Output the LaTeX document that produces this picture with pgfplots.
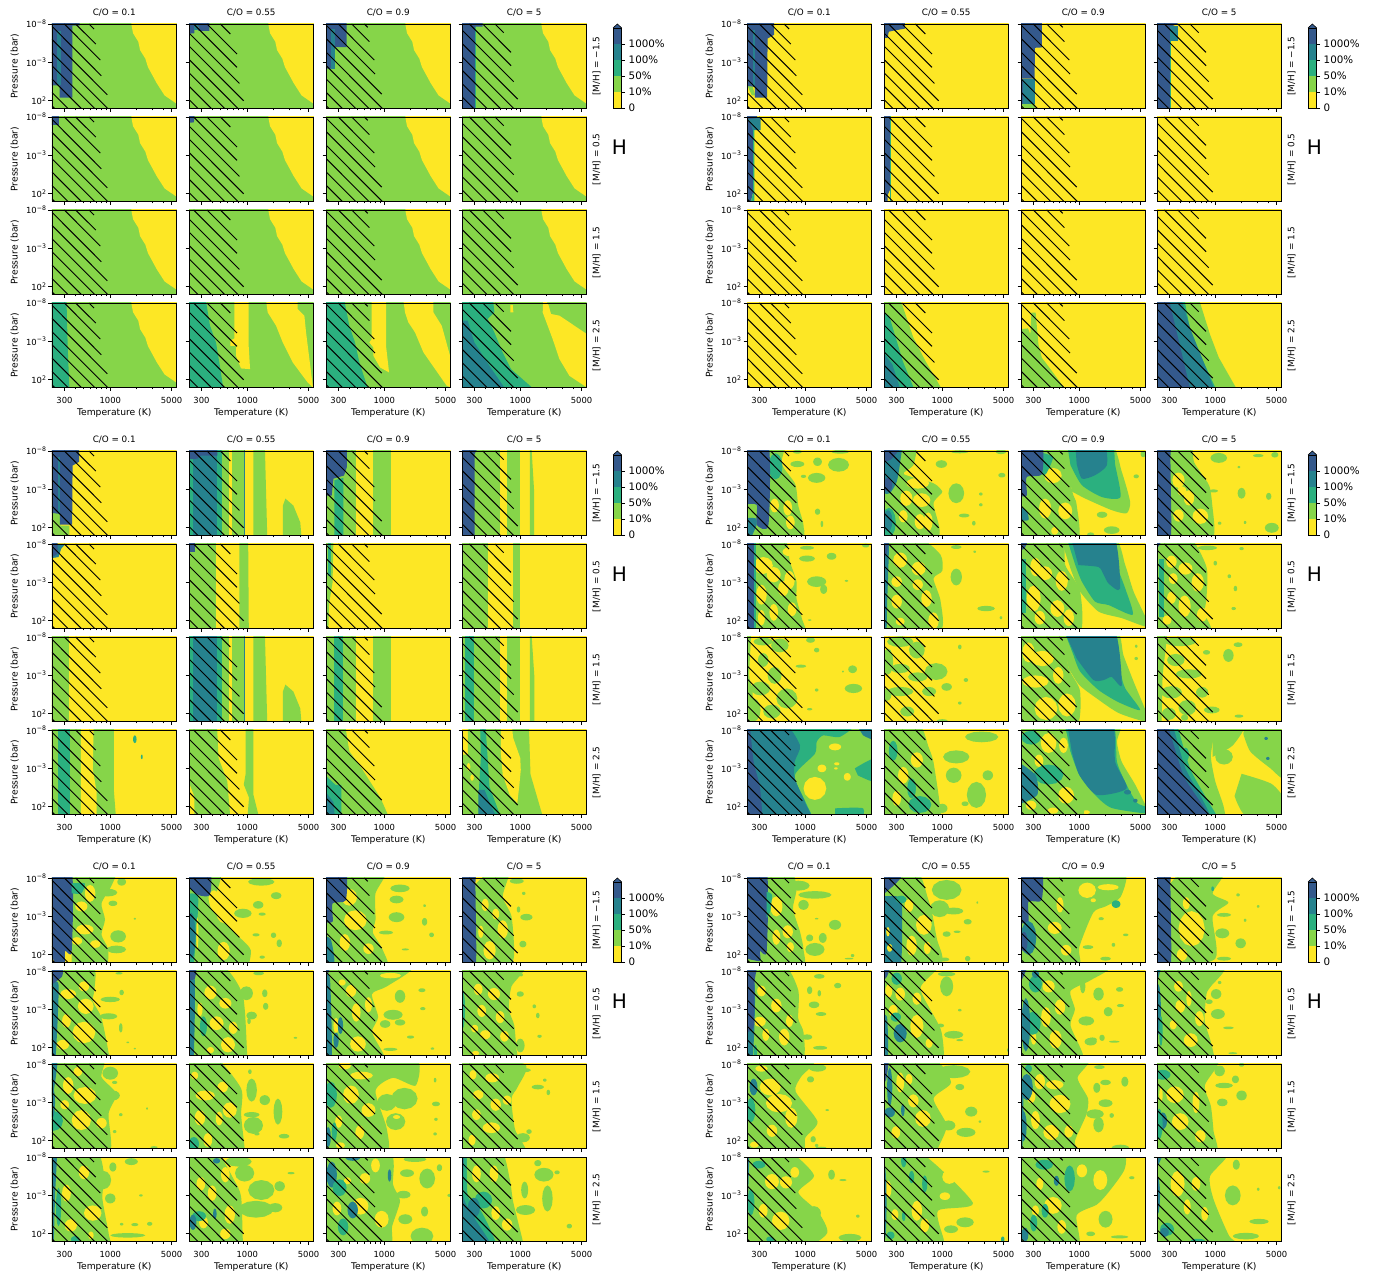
\documentclass[border=0pt]{standalone}
\usepackage{pgfplots}
\usepackage{fontspec}
\setmainfont{DejaVu Sans}
\pgfplotsset{compat=1.18}
\definecolor{c0}{HTML}{FDE725}\definecolor{c1}{HTML}{86D549}\definecolor{c2}{HTML}{2BB07F}\definecolor{c3}{HTML}{26828E}\definecolor{c4}{HTML}{34598C}
\newcommand\tten[1]{10\raisebox{.42em}{\fontsize{6.2}{6}\selectfont #1}}
\newcommand\F[2]{\addplot[fill=#1,draw=none] coordinates {#2};}
\newcommand\E[5]{\pgfmathsetmacro\ea{#2-#4}\pgfmathsetmacro\eb{#2+#4}\pgfmathsetmacro\ec{#3-#5}\pgfmathsetmacro\ed{#3+#5}\pgfmathsetmacro\xa{#2-.866*#4}\pgfmathsetmacro\xb{#2-.5*#4}\pgfmathsetmacro\xc{#2+.5*#4}\pgfmathsetmacro\xd{#2+.866*#4}\pgfmathsetmacro\ya{#3-.866*#5}\pgfmathsetmacro\yb{#3-.5*#5}\pgfmathsetmacro\yc{#3+.5*#5}\pgfmathsetmacro\yd{#3+.866*#5}\addplot[fill=#1,draw=none] coordinates {(\ea,#3)(\xa,\yb)(\xb,\ya)(#2,\ec)(\xc,\ya)(\xd,\yb)(\eb,#3)(\xd,\yc)(\xc,\yd)(#2,\ed)(\xb,\yd)(\xa,\yc)};}
\newcommand\Y{\E{c0}}\newcommand\G{\E{c1}}
\newcommand\Rc[5]{\addplot[fill=#1,draw=none] coordinates {(#2,#4)(#3,#4)(#3,#5)(#2,#5)};}
\newcommand\Hh[1]{\addplot[black,line width=.95pt,unbounded coords=jump] coordinates {#1};}
\def\hatchA{\Hh{(2.758,-8)(2.815,-7.35)(0,nan)(2.605,-8)(2.834,-5.39)(0,nan)(2.476,-8)(2.887,-3.3)(0,nan)(2.335,-7.7)(2.898,-1.26)(0,nan)(2.335,-6)(2.967,1.22)(0,nan)(2.335,-4.26)(2.971,3)(0,nan)(2.335,-2.57)(2.822,3)(0,nan)(2.335,-.83)(2.67,3)(0,nan)(2.335,.91)(2.518,3)(0,nan)(2.335,2.65)(2.365,3)}}
\def\hatchB{\Hh{(2.693,-8)(2.807,-6.7)(0,nan)(2.541,-8)(2.883,-4.09)(0,nan)(2.388,-8)(2.883,-2.35)(0,nan)(2.335,-6.83)(2.91,-.26)(0,nan)(2.335,-5.13)(2.959,2)(0,nan)(2.335,-3.39)(2.895,3)(0,nan)(2.335,-1.65)(2.742,3)(0,nan)(2.335,.09)(2.59,3)(0,nan)(2.335,1.83)(2.438,3)}}
\def\hatchC{\Hh{(2.773,-8)(2.811,-7.57)(0,nan)(2.628,-8)(2.83,-5.7)(0,nan)(2.476,-8)(2.887,-3.3)(0,nan)(2.335,-7.87)(2.895,-1.48)(0,nan)(2.335,-6.13)(2.971,1.13)(0,nan)(2.335,-4.35)(2.978,3)(0,nan)(2.335,-2.61)(2.826,3)(0,nan)(2.335,-.87)(2.674,3)(0,nan)(2.335,.87)(2.522,3)(0,nan)(2.335,2.61)(2.369,3)}}
\def\hatchD{\Hh{(2.712,-8)(2.811,-6.87)(0,nan)(2.571,-8)(2.895,-4.3)(0,nan)(2.419,-8)(2.895,-2.57)(0,nan)(2.335,-7.22)(2.925,-.48)(0,nan)(2.335,-5.48)(2.971,1.78)(0,nan)(2.335,-3.74)(2.925,3)(0,nan)(2.335,-2)(2.773,3)(0,nan)(2.335,-.26)(2.621,3)(0,nan)(2.335,1.48)(2.468,3)}}
\pgfplotsset{base/.style={scale only axis,width=124.5pt,height=84.5pt,anchor=north west,axis on top,
 xmin=2.335,xmax=3.756,ymin=-8,ymax=3,y dir=reverse,axis line style={line width=.9pt,black},
 xtick={2.477,3,3.699},minor xtick={2.602,2.699,2.778,2.845,2.903,2.954,3.301,3.477,3.602},
 ytick={-8,-3,2},tick align=outside,xtick pos=bottom,ytick pos=left,
 major tick length=3.5pt,minor tick length=2pt,tick style={black,line width=.8pt},
 xticklabels={},yticklabels={},
 ticklabel style={font=\fontsize{8.4}{10}\selectfont},
 label style={font=\fontsize{9.2}{10}\selectfont},
 title style={font=\fontsize{8.8}{10}\selectfont,at={(axis description cs:.5,1.13)},anchor=center,yshift=-6pt},
 xlabel style={at={(axis description cs:.5,-.305)},anchor=center},
 ylabel style={at={(axis description cs:-.3,.5)},anchor=center},
 xticklabel style={yshift=-3pt},yticklabel style={xshift=1pt}},
 C1/.style={ylabel={Pressure (bar)},yticklabels={\tten{−8},\tten{−3},\tten{2}}},
 C2/.style={},C3/.style={},
 C4/.style={extra description/.code={\node[rotate=90,font=\fontsize{8.9}{10}\selectfont] at (axis description cs:1.08,.5) {[M/H] = \rowlab};}},
 R1/.style={title={C/O = \coltitle}},R2/.style={},R3/.style={},
 R4/.style={xlabel={Temperature (K)},xticklabels={300,1000,5000}}}
\newcommand\Panel[5]{%
 \ifcase#1\or\def\gx{0}\def\gy{0}\or\def\gx{695}\def\gy{0}\or\def\gx{0}\def\gy{427}\or\def\gx{695}\def\gy{427}\or\def\gx{0}\def\gy{854}\or\def\gx{695}\def\gy{854}\fi
 \ifcase#2\or\def\cx{52}\def\coltitle{0.1}\def\hh{\hatchA}\or\def\cx{189}\def\coltitle{0.55}\def\hh{\hatchB}\or\def\cx{326}\def\coltitle{0.9}\def\hh{\hatchC}\or\def\cx{462}\def\coltitle{5}\def\hh{\hatchD}\fi
 \ifcase#3\or\def\cy{24}\def\rowlab{−1.5}\or\def\cy{117}\def\rowlab{0.5}\or\def\cy{210}\def\rowlab{1.5}\or\def\cy{303}\def\rowlab{2.5}\fi
 \pgfmathsetmacro\px{\gx+\cx}\pgfmathsetmacro\py{1278-\gy-\cy}
 \begin{axis}[base,at={(\px pt,\py pt)},C#2,R#3]
 \Rc{#4}{2.3}{3.8}{-9}{4}
 #5
 \hh
 \end{axis}}
\newcommand\Deco[2]{%
 \pgfmathsetmacro\px{#1+613}\pgfmathsetmacro\py{1278-#2-108}
 \begin{axis}[scale only axis,width=8.7pt,height=80pt,anchor=south west,at={(\px pt,\py pt)},xmin=0,xmax=1,ymin=0,ymax=5,clip=false,axis on top,
 xtick=\empty,ytick={0,1,2,3,4},yticklabels={0,10\%,50\%,100\%,1000\%},ytick pos=right,yticklabel pos=right,
 major tick length=3.5pt,tick style={black,line width=.8pt},tick align=outside,axis line style={line width=.8pt},
 ticklabel style={font=\fontsize{10.3}{12}\selectfont},yticklabel style={xshift=0pt}]
 \Rc{c0}{0}{1}{0}{1}\Rc{c1}{0}{1}{1}{2}\Rc{c2}{0}{1}{2}{3}\Rc{c3}{0}{1}{3}{4}\Rc{c4}{0}{1}{4}{5}
 \addplot[fill=c4,draw=black,line width=.6pt] coordinates {(0,5)(.5,5.25)(1,5)};
 \end{axis}
 \pgfmathsetmacro\hx{#1+619.5}\pgfmathsetmacro\hy{1278-#2-147}
 \node[font=\fontsize{20}{22}\selectfont] at (\hx pt,\hy pt) {H};}
\def\YG{\F{c0}{(3.24,-9)(3.24,-8)(3.26,-6.8)(3.32,-5.7)(3.34,-4.6)(3.40,-3.5)(3.43,-2.4)(3.53,-.3)(3.62,1.3)(3.76,2.4)(3.8,3)(3.8,-9)}}
\def\BandB{\Rc{c2}{2.3}{2.712}{-9}{4}\Rc{c3}{2.375}{2.66}{-9}{4}\Rc{c1}{2.712}{2.79}{-9}{4}\Rc{c1}{2.831}{2.962}{-9}{4}\Rc{c3}{2.962}{2.97}{-9}{4}\F{c1}{(3.07,-9)(3.2,-9)(3.23,4)(3.07,4)}\F{c1}{(3.407,4)(3.407,-.9)(3.435,-1.8)(3.526,-.9)(3.605,1.3)(3.625,4)}}
\begin{document}
\begin{tikzpicture}[x=1pt,y=1pt]
\useasboundingbox (0,0) rectangle (1377,1278);
\Deco{0}{0}\Deco{695}{0}\Deco{0}{427}\Deco{695}{427}\Deco{0}{854}\Deco{695}{854}
% group 1
\Panel{1}{1}{1}{c1}{\YG\F{c4}{(2.3,-9)(2.651,-9)(2.651,-7.8)(2.567,-7.8)(2.567,1.6)(2.423,1.6)(2.423,0)(2.3,0)}\Rc{c3}{2.396}{2.434}{-7.1}{0}}
\Panel{1}{2}{1}{c1}{\YG\F{c4}{(2.3,-9)(2.567,-9)(2.567,-7.1)(2.442,-7.1)(2.442,-7.7)(2.396,-7.7)(2.396,-6.8)(2.3,-6.7)}\Rc{c3}{2.396}{2.442}{-8}{-7.2}}
\Panel{1}{3}{1}{c1}{\YG\F{c4}{(2.3,-9)(2.571,-9)(2.571,-5)(2.434,-5)(2.411,-2.2)(2.3,-2.2)}\Rc{c3}{2.39}{2.434}{-7.4}{-2.2}}
\Panel{1}{4}{1}{c1}{\YG\F{c4}{(2.3,-9)(2.571,-9)(2.571,-7.65)(2.487,-7.65)(2.487,4)(2.3,4)}\Rc{c2}{2.487}{2.5}{-7.6}{4}}
\Panel{1}{1}{2}{c1}{\YG\Rc{c4}{2.3}{2.411}{-9}{-7}}
\Panel{1}{2}{2}{c1}{\YG\F{c4}{(2.3,-9)(2.407,-9)(2.39,-7.3)(2.3,-7.2)}}
\Panel{1}{3}{2}{c1}{\YG}
\Panel{1}{4}{2}{c1}{\YG}
\Panel{1}{1}{3}{c1}{\YG}\Panel{1}{2}{3}{c1}{\YG}\Panel{1}{3}{3}{c1}{\YG}\Panel{1}{4}{3}{c1}{\YG}
\Panel{1}{1}{4}{c1}{\YG\F{c2}{(2.3,-9)(2.499,-9)(2.515,-2)(2.537,4)(2.3,4)}}
\Panel{1}{2}{4}{c1}{\F{c2}{(2.3,-9)(2.518,-9)(2.575,-5.04)(2.643,-2.87)(2.681,-.26)(2.739,4)(2.3,4)}\F{c0}{(2.853,-9)(3.016,-9)(3.016,-2.43)(3.032,.61)(2.929,.52)(2.872,-1.13)(2.872,-2.43)(2.807,-2.43)(2.807,-3.09)(2.853,-3.4)}\F{c0}{(3.207,-9)(3.576,-9)(3.576,-7.2)(3.652,-6.35)(3.671,-4.17)(3.709,-.7)(3.75,3)(3.69,2.35)(3.519,-.26)(3.405,-2.87)(3.329,-5.04)(3.233,-6.78)}}
\Panel{1}{3}{4}{c1}{\F{c2}{(2.3,-9)(2.533,-9)(2.601,-5.04)(2.666,-2.87)(2.716,-.26)(2.838,4)(2.3,4)}\F{c0}{(2.857,-9)(3.02,-9)(3.02,-2.43)(3.055,1.04)(2.952,.39)(2.876,-1.13)(2.876,-2.2)(2.83,-2.87)(2.857,-3.3)}\F{c0}{(3.211,-9)(3.561,-9)(3.561,-6.78)(3.656,-5.04)(3.751,-1.13)(3.76,3)(3.713,2.78)(3.58,.6)(3.447,-1.57)(3.351,-4.17)(3.275,-5.48)(3.237,-6.78)}}
\Panel{1}{4}{4}{c1}{\F{c2}{(2.3,-9)(2.685,-9)(2.704,-6.78)(2.628,-5.91)(2.704,-4.17)(2.799,-1.57)(2.895,.61)(3.134,3)(3.134,4)(2.3,4)}\F{c3}{(2.3,-5.7)(2.4,-5.7)(2.476,-2.87)(2.647,.17)(2.818,3)(2.818,4)(2.3,4)}\F{c0}{(2.887,-7.74)(2.914,-7.74)(2.921,-6.78)(2.887,-6.78)}\F{c0}{(3.264,-9)(3.325,-7.65)(3.351,-6.57)(3.447,-6.35)(3.76,-3.96)(3.76,3)(3.732,2.78)(3.561,1.48)(3.447,-.7)(3.37,-3.3)(3.256,-6.78)}}
% group 2
\Panel{2}{1}{1}{c0}{\F{c1}{(2.34,0)(2.4,.2)(2.43,1.3)(2.39,1.3)}\F{c4}{(2.3,-9)(2.645,-9)(2.645,-6.6)(2.57,-6.1)(2.565,1.6)(2.426,1.6)(2.426,.2)(2.3,0)}\Rc{c3}{2.4}{2.43}{-7.2}{.2}}
\Panel{2}{2}{1}{c0}{\F{c4}{(2.3,-9)(2.573,-9)(2.573,-7.4)(2.43,-7.1)(2.39,-7)(2.375,-6.2)(2.3,-6.2)}}
\Panel{2}{3}{1}{c0}{\Rc{c1}{2.3}{2.5}{2.4}{4}\F{c4}{(2.3,-9)(2.573,-9)(2.573,-4.95)(2.494,-4.9)(2.49,-.9)(2.3,-.9)}\Rc{c3}{2.363}{2.49}{-.9}{2.4}\Rc{c4}{2.3}{2.363}{-.9}{2.4}}
\Panel{2}{4}{1}{c0}{\F{c4}{(2.3,-9)(2.57,-9)(2.57,-8)(2.482,-7.6)(2.482,4)(2.3,4)}\Rc{c3}{2.48}{2.57}{-7.8}{-5.8}\Rc{c2}{2.48}{2.498}{-5.8}{4}}
\Panel{2}{1}{2}{c0}{\F{c4}{(2.3,-9)(2.45,-9)(2.45,-7.8)(2.405,-6.3)(2.405,1.8)(2.37,3.5)(2.3,3.5)}\F{c3}{(2.35,-7.7)(2.49,-7.9)(2.49,-6.3)(2.4,-6.3)(2.38,-7)}\F{c2}{(2.405,-6.3)(2.42,-6.3)(2.42,3.5)(2.37,3.5)(2.405,1.8)}}
\Panel{2}{2}{2}{c0}{\Rc{c2}{2.402}{2.42}{-9}{4}\F{c4}{(2.3,-9)(2.402,-9)(2.402,1.5)(2.375,2.2)(2.375,4)(2.3,4)}}
\Panel{2}{3}{2}{c0}{}\Panel{2}{4}{2}{c0}{}
\Panel{2}{1}{3}{c0}{}\Panel{2}{2}{3}{c0}{}\Panel{2}{3}{3}{c0}{}\Panel{2}{4}{3}{c0}{}
\Panel{2}{1}{4}{c0}{}
\Panel{2}{2}{4}{c0}{\F{c1}{(2.3,-9)(2.506,-9)(2.67,-3.5)(2.81,-.4)(3.01,3.5)(2.3,3.5)}\F{c2}{(2.3,-7)(2.395,-6.3)(2.55,-.4)(2.69,3.5)(2.3,3.5)}\F{c3}{(2.3,-2)(2.43,0)(2.53,3.5)(2.3,3.5)}}
\Panel{2}{3}{4}{c0}{\F{c1}{(2.3,-4.56)(2.414,-4.69)(2.442,-3.91)(2.454,-6.74)(2.502,-6.74)(2.534,-2.6)(2.573,-.87)(2.66,.44)(2.8,2.61)(2.84,3.5)(2.3,3.5)}}
\Panel{2}{4}{4}{c0}{\F{c1}{(2.3,-9)(2.8,-9)(2.94,-3.9)(3.04,-.9)(3.26,3.5)(2.3,3.5)}\F{c2}{(2.3,-9)(2.64,-9)(2.72,-4)(3.02,3.5)(2.3,3.5)}\F{c3}{(2.3,-9)(2.6,-9)(2.72,-4.5)(3,3.5)(2.3,3.5)}\F{c4}{(2.3,-9)(2.46,-9)(2.72,3.5)(2.3,3.5)}}
% group 3
\def\DkA{\F{c4}{(2.3,-9)(2.645,-9)(2.645,-6.6)(2.57,-6.1)(2.565,1.6)(2.426,1.6)(2.426,.2)(2.3,0)}\Rc{c3}{2.4}{2.43}{-7.2}{.2}}
\Panel{3}{1}{1}{c0}{\F{c1}{(2.3,0)(2.43,0)(2.43,1.7)(2.534,1.7)(2.534,4)(2.3,4)}\DkA}
\Panel{3}{2}{1}{c0}{\BandB\F{c4}{(2.3,-9)(2.66,-9)(2.66,-7.4)(2.47,-7.4)(2.43,-7)(2.3,-6.9)}}
\Panel{3}{3}{1}{c0}{\Rc{c1}{2.3}{2.68}{-9}{4}\Rc{c1}{2.871}{3.078}{-9}{4}\F{c2}{(2.43,-4.2)(2.534,-4.5)(2.534,4)(2.43,4)}\F{c4}{(2.3,-9)(2.573,-9)(2.573,-5.9)(2.54,-4.8)(2.42,-4.4)(2.4,-2.2)(2.3,-2.2)}}
\Panel{3}{4}{1}{c0}{\Rc{c1}{2.3}{2.772}{-9}{4}\Rc{c1}{2.847}{3}{-9}{4}\F{c1}{(3.109,-9)(3.125,-9)(3.157,-3)(3.157,4)(3.109,4)}\F{c4}{(2.3,-9)(2.541,-9)(2.48,-7.6)(2.48,4)(2.3,4)}}
\Panel{3}{1}{2}{c0}{\F{c3}{(2.4,-8)(2.49,-8)(2.44,-7.4)(2.41,-6.3)(2.3,-6.1)(2.3,-7)}\F{c4}{(2.3,-9)(2.4,-9)(2.4,-6.74)(2.367,-6.5)(2.3,-6.17)}}
\Panel{3}{2}{2}{c0}{\Rc{c1}{2.3}{2.645}{-9}{4}\F{c1}{(2.911,-9)(3.01,-9)(3.018,4)(2.911,4)}\Rc{c4}{2.3}{2.402}{-9}{-7}}
\Panel{3}{3}{2}{c0}{\F{c1}{(2.3,-9)(2.42,-9)(2.41,-3)(2.37,-.2)(2.36,4)(2.3,4)}\Rc{c2}{2.36}{2.39}{-9}{-3.8}}
\Panel{3}{4}{2}{c0}{\Rc{c1}{2.3}{2.633}{-9}{4}\Rc{c1}{2.919}{3}{-9}{4}}
\Panel{3}{1}{3}{c0}{\Rc{c1}{2.3}{2.534}{-9}{4}}
\Panel{3}{2}{3}{c0}{\BandB}
\Panel{3}{3}{3}{c0}{\Rc{c1}{2.3}{2.68}{-9}{4}\Rc{c2}{2.43}{2.534}{-9}{4}\Rc{c1}{2.871}{3.078}{-9}{4}}
\Panel{3}{4}{3}{c0}{\Rc{c1}{2.3}{2.772}{-9}{4}\Rc{c2}{2.371}{2.474}{-9}{4}\Rc{c1}{2.847}{3}{-9}{4}\F{c1}{(3.109,-9)(3.125,-9)(3.16,-3)(3.16,4)(3.109,4)}}
\Panel{3}{1}{4}{c0}{\F{c1}{(2.3,-9)(3.042,-9)(3.042,0)(3.069,4)(2.3,4)}\Rc{c2}{2.406}{2.537}{-9}{4}\F{c0}{(2.665,-9)(2.811,-9)(2.8,-3)(2.843,0)(2.843,4)(2.665,4)}\E{c2}{3.28}{-6.8}{.02}{.5}\E{c2}{3.36}{-4.5}{.01}{.3}}
\Panel{3}{2}{4}{c0}{\F{c1}{(2.3,-9)(2.653,-9)(2.672,-4.35)(2.772,-1.3)(2.811,4)(2.395,4)(2.395,.6)(2.3,-2.2)}\F{c1}{(2.982,-9)(3.07,-9)(3.07,.44)(3.149,4)(2.998,4)(3.02,.8)(2.96,-.9)(2.98,-2.2)}}
\Panel{3}{3}{4}{c0}{\F{c1}{(2.3,-9)(2.549,-9)(2.601,-5.22)(2.74,-3.04)(2.958,.87)(3.078,4)(2.3,4)}\F{c2}{(2.3,-2.39)(2.442,-.87)(2.51,-.87)(2.51,4)(2.3,4)}\F{c3}{(2.3,-.4)(2.42,1.4)(2.442,4)(2.3,4)}}
\Panel{3}{4}{4}{c0}{\F{c1}{(2.3,-4.8)(2.402,-4.8)(2.402,-9)(3.097,-9)(3.117,-2.2)(3.276,4)(2.3,4)}\F{c0}{(2.78,-9)(2.9,-9)(2.919,-6.96)(3,-4.35)(3.006,-2.82)(2.99,-.87)(2.966,1.52)(2.879,.44)(2.8,-2.17)(2.78,-4.78)}\F{c2}{(2.541,-9)(2.601,-9)(2.649,-.6)(2.8,4)(2.522,4)(2.53,-.6)(2.55,-4.3)}\F{c3}{(2.522,-.2)(2.593,-.2)(2.66,1.74)(2.76,4)(2.522,4)}\Y{2.41}{-3.2}{.02}{.5}\Y{2.45}{-1.8}{.02}{.4}}
\renewcommand\F[2]{\addplot[fill=#1,draw=none,smooth,tension=.4] coordinates {#2};}
% group 4
\Panel{4}{1}{1}{c0}{\F{c1}{(2.3,-9)(2.75,-9)(2.73,-6.3)(2.885,-3.7)(2.92,-.9)(2.98,1.7)(2.94,4)(2.3,4)}\Y{2.65}{-.9}{.05}{.9}\Y{2.8}{-.6}{.05}{1}\Y{2.83}{1.3}{.05}{.9}\E{c2}{2.66}{-6}{.08}{1.7}\F{c4}{(2.3,-9)(2.58,-9)(2.58,1.6)(2.445,1.6)(2.445,-1)(2.3,-1)}\F{c3}{(2.3,.75)(2.43,.75)(2.445,1.6)(2.35,4)(2.3,4)}\G{2.91}{-6.3}{.08}{.4}\G{3.14}{-6.6}{.05}{.55}\G{3.38}{-6.2}{.12}{.9}\G{3.13}{-4.5}{.1}{.65}\G{3.14}{-.1}{.03}{.4}\G{2.98}{-4.7}{.03}{.2}\G{3.19}{1.5}{.015}{.4}\G{2.96}{2.4}{.03}{.25}\G{3.4}{-7.9}{.1}{.25}\G{2.91}{-7.9}{.05}{.25}}
\Panel{4}{2}{1}{c0}{\F{c1}{(2.3,-9)(2.69,-9)(2.67,-6.15)(2.56,-5)(2.9,-3.8)(3,-2.7)(2.935,-1.85)(2.9,-1)(2.97,2.25)(2.9,4)(2.3,4)}\Y{2.59}{-1.85}{.07}{1}\Y{2.765}{-1.6}{.1}{.9}\Y{2.745}{1.2}{.06}{1}\Y{2.555}{.5}{.05}{.8}\Y{2.84}{1.2}{.05}{1.2}\Y{2.72}{-3.8}{.13}{.7}\F{c3}{(2.3,-9)(2.53,-9)(2.52,-6.6)(2.48,-4)(2.4,-2.5)(2.3,-2.5)}\F{c4}{(2.3,-9)(2.55,-9)(2.47,-7.6)(2.4,-6.8)(2.3,-6.5)}\E{c4}{2.38}{-3.6}{.05}{.9}\E{c2}{2.39}{1.3}{.08}{1.9}\E{c3}{2.38}{1.1}{.05}{1.4}\G{2.99}{-6.3}{.065}{.5}\G{3.16}{-2.5}{.09}{1.3}\G{3.44}{-2.4}{.02}{.2}\G{3.44}{-1}{.02}{.2}\G{3.25}{.4}{.06}{.25}\G{3.36}{1.4}{.02}{.3}\G{3.68}{-4.85}{.04}{.3}\G{3.2}{-7.9}{.1}{.2}\G{3.67}{-7.9}{.06}{.3}}
\Panel{4}{3}{1}{c0}{\F{c1}{(2.3,-9)(2.8,-9)(2.92,-2.7)(2.97,-1)(2.97,4)(2.3,4)}\Y{2.7}{-4.8}{.1}{1}\Y{2.61}{-.5}{.07}{1.3}\Y{2.84}{-.2}{.08}{1.1}\Y{2.72}{2.4}{.04}{.5}\F{c1}{(2.8,-9)(3.355,-9)(3.485,-5.3)(3.58,-1.4)(3.54,.1)(3.37,-.3)(3.07,-1.8)(2.92,-2.7)}\F{c2}{(2.86,-9)(3.355,-9)(3.41,-6.15)(3.47,-2)(3.26,-2)(3.03,-3.55)(2.9,-6.15)}\F{c3}{(2.955,-9)(3.28,-9)(3.315,-6.15)(3.18,-4.85)(3.03,-4.4)(2.97,-6.35)}\F{c2}{(2.56,-7.8)(2.7,-7.2)(2.62,-5)(2.56,-5)}\F{c4}{(2.3,-9)(2.573,-9)(2.573,-5)(2.4,-4.6)(2.4,-2.2)(2.3,-2.2)}\F{c3}{(2.3,-1)(2.4,-.2)(2.42,1)(2.3,1)}\G{3.37}{2.3}{.09}{.5}\G{3.13}{2.9}{.04}{.3}\G{3.65}{-4.7}{.03}{.25}\G{3.26}{.3}{.06}{.4}\G{3.73}{-7.6}{.03}{.4}}
\Panel{4}{4}{1}{c0}{\F{c1}{(2.48,-9)(2.72,-9)(2.76,-6.5)(2.93,-3.5)(2.97,-.5)(2.99,2.2)(2.94,4)(2.48,4)}\Y{2.58}{-4.2}{.07}{1}\Y{2.7}{-1.9}{.06}{1}\Y{2.58}{.4}{.06}{.8}\Y{2.83}{.5}{.09}{1}\Y{2.62}{-2.8}{.05}{.6}\F{c4}{(2.3,-9)(2.56,-9)(2.49,-7.8)(2.49,4)(2.3,4)}\G{3.04}{-7.1}{.095}{.65}\G{3.3}{-2.5}{.045}{.7}\G{3.61}{-2.1}{.03}{.45}\G{3.645}{2}{.08}{.65}\G{3.68}{-7.5}{.04}{.35}\G{3.49}{-7.4}{.06}{.2}\G{2.98}{-2.8}{.05}{.2}\G{3.05}{1.4}{.02}{.2}\G{3.27}{-5.9}{.015}{.15}\G{3.34}{1.3}{.015}{.2}}
\Panel{4}{1}{2}{c0}{\F{c1}{(2.3,-9)(2.75,-9)(2.825,-5.7)(2.9,-3.1)(2.9,-.9)(2.96,1.65)(2.98,4)(2.3,4)}\Y{2.52}{-5.2}{.11}{1.1}\Y{2.83}{-7}{.09}{.6}\Y{2.64}{-4}{.08}{1}\Y{2.82}{-3.3}{.06}{1.2}\Y{2.5}{-1.4}{.06}{1.3}\Y{2.75}{-2.2}{.06}{1}\Y{2.64}{.9}{.05}{1.1}\Y{2.85}{.5}{.05}{.9}\Y{2.5}{1.6}{.04}{1}\Rc{c2}{2.38}{2.44}{-9}{4}\Rc{c4}{2.3}{2.41}{-9}{4}\G{3.02}{-6.1}{.09}{.4}\G{3.02}{-7.5}{.08}{.25}\G{3.3}{-6.4}{.055}{.45}\G{3.13}{-3.1}{.11}{.7}\G{3.21}{-2.1}{.04}{.6}\G{3.69}{-7.8}{.04}{.25}\G{3.47}{-3.2}{.02}{.12}\G{3.05}{1.9}{.02}{.1}}
\Panel{4}{2}{2}{c0}{\F{c1}{(2.3,-9)(2.72,-9)(2.98,-6.6)(3,-4.5)(2.9,-3.5)(2.98,-.6)(2.97,3.5)(2.3,3.5)}\Y{2.52}{-5.9}{.08}{1}\Y{2.73}{-4.8}{.08}{.9}\Y{2.48}{-3.1}{.06}{.7}\Y{2.72}{-2.7}{.06}{.7}\Y{2.48}{-.5}{.06}{.9}\Y{2.82}{-.9}{.06}{1.1}\Y{2.9}{2}{.06}{1.1}\Y{2.52}{2.1}{.05}{.5}\F{c3}{(2.3,-9)(2.39,-9)(2.37,0)(2.36,4)(2.3,4)}\F{c4}{(2.3,-9)(2.39,-9)(2.36,-6.5)(2.3,-6.5)}\G{3.16}{-3.7}{.065}{1.1}\G{3.5}{.4}{.1}{.35}\G{3.16}{-7.6}{.06}{.25}\G{3.37}{-7}{.015}{.15}\G{3.67}{1.6}{.015}{.2}}
\Panel{4}{3}{2}{c0}{\F{c1}{(2.78,-9)(3.39,-9)(3.525,-5.25)(3.62,-1.8)(3.76,1.65)(3.76,2.75)(3.485,1.65)(3.22,.8)(3.01,-1.8)(2.9,-4.8)}\F{c2}{(2.85,-9)(3.39,-9)(3.43,-5.25)(3.525,-2.2)(3.61,1.2)(3.335,-.05)(3.18,-.5)(3.03,-3.1)(2.955,-5.25)}\F{c3}{(2.9,-9)(3.39,-9)(3.465,-2.2)(3.335,-2.85)(3.28,-3.95)(3.22,-5)(2.99,-5.25)}\F{c1}{(2.3,-9)(2.8,-9)(2.84,-5.25)(3.01,-1.8)(2.99,4)(2.3,4)}\Y{2.5}{-5}{.06}{1.2}\Y{2.61}{-4.2}{.08}{.9}\Y{2.48}{-.9}{.08}{1.7}\Y{2.8}{-3.2}{.07}{1.3}\Y{2.75}{.4}{.08}{1.1}\Y{2.55}{1.6}{.06}{.9}\Y{2.88}{1.6}{.06}{1.1}\F{c4}{(2.3,-9)(2.42,-9)(2.38,-7.5)(2.3,-7)}\Rc{c2}{2.35}{2.39}{-6}{1}}
\Panel{4}{4}{2}{c0}{\F{c1}{(2.3,-9)(2.7,-9)(2.9,-5)(2.9,-1)(2.88,1)(2.95,4)(2.3,4)}\Y{2.5}{-5.7}{.06}{.8}\Y{2.66}{-4.8}{.08}{.8}\Y{2.52}{-3.5}{.05}{.7}\Y{2.8}{-3}{.07}{1.2}\Y{2.5}{-1}{.05}{.8}\Y{2.65}{.1}{.07}{1.4}\Y{2.85}{1.2}{.06}{.9}\Y{2.45}{1.9}{.05}{.6}\Rc{c2}{2.36}{2.41}{-6}{1.5}\F{c4}{(2.3,-9)(2.41,-9)(2.34,-7.5)(2.3,-7.5)}\G{2.91}{-7.5}{.11}{.3}\G{3}{-5.5}{.02}{.3}\G{3.16}{-3.8}{.02}{.25}\G{3.23}{-2.2}{.02}{.35}\G{3.21}{.4}{.025}{.2}\G{3.3}{-7.4}{.025}{.2}}
\Panel{4}{1}{3}{c0}{\F{c1}{(2.3,-9)(2.38,-9)(2.36,-3)(2.4,-1)(2.38,4)(2.3,4)}\G{2.52}{-7.4}{.11}{.5}\G{2.71}{-6.9}{.1}{.9}\G{2.52}{-5}{.06}{.9}\G{2.65}{-3}{.08}{1.1}\G{2.49}{-1.3}{.11}{.9}\G{2.79}{0}{.12}{1.3}\G{2.62}{1.7}{.1}{.9}\G{2.41}{1.5}{.08}{1.5}\G{3.06}{-7.6}{.05}{.35}\G{3.13}{-6.3}{.03}{.3}\G{2.95}{-4.2}{.06}{.2}\G{3.54}{-3.8}{.05}{.5}\G{3.55}{-1.3}{.1}{.6}\G{3.13}{-1.1}{.02}{.2}\G{3.05}{1.4}{.03}{.15}\G{3.43}{-3.5}{.01}{.12}}
\Panel{4}{2}{3}{c0}{\G{2.52}{-7.4}{.15}{.7}\G{2.71}{-6.3}{.09}{1.1}\G{2.93}{-3.5}{.13}{1.1}\G{3.05}{-1.5}{.06}{.5}\G{2.52}{-3.9}{.11}{.6}\G{2.72}{-2.8}{.11}{.6}\G{2.38}{-4.8}{.06}{1.7}\G{2.52}{-.9}{.15}{.6}\G{2.37}{-.5}{.05}{.8}\G{2.6}{1.7}{.08}{.65}\G{3}{2.9}{.06}{.2}\G{3.27}{-2.4}{.025}{.25}\G{3.2}{-6.7}{.02}{.3}\G{3.2}{.6}{.02}{.2}\G{2.85}{-.9}{.08}{.6}}
\Panel{4}{1}{4}{c1}{\Y{3.11}{-.4}{.13}{1.5}\Y{3.34}{-5.8}{.07}{.45}\Y{3.19}{-3}{.05}{.5}\Y{3.36}{-3.6}{.03}{.2}\Y{3.48}{-1.9}{.04}{.5}\Y{3.35}{-3}{.02}{.15}\F{c2}{(2.8,-9)(3.565,-9)(3.395,-7.1)(3.205,-7.3)(3.13,-6.45)(3.11,-4.9)(2.88,-2.1)(3,1.3)(3.09,4)(2.8,4)}\F{c3}{(2.3,-9)(2.75,-9)(2.94,-6)(2.88,-3.9)(2.88,-1.7)(3,1.5)(3.05,4)(2.3,4)}\F{c4}{(2.3,-9)(2.36,-9)(2.41,-3.9)(2.483,-.5)(2.5,4)(2.3,4)}\F{c2}{(3.565,-3)(3.8,-4.3)(3.8,-1.3)(3.6,-2.1)}\F{c2}{(3.34,2.2)(3.66,2.2)(3.62,4)(3.34,4)}\F{c3}{(3.565,-9)(3.8,-9)(3.8,-6.7)(3.66,-7.3)}}
\Panel{4}{2}{4}{c0}{\F{c1}{(2.3,-9)(2.68,-9)(2.78,-8)(2.84,-5.9)(2.9,-3.8)(2.98,2.5)(2.95,4)(2.3,4)}\Y{2.555}{-2.1}{.06}{1.1}\Y{2.71}{-4.1}{.07}{1}\Y{2.48}{.9}{.05}{1}\E{c2}{2.745}{1.7}{.13}{1.1}\E{c2}{2.44}{-5.3}{.05}{1.3}\E{c2}{2.65}{-.4}{.05}{1.3}\G{3.45}{-7.1}{.19}{.7}\G{3.16}{-4.5}{.15}{.85}\G{3.52}{-2.1}{.06}{.65}\G{3.39}{.45}{.11}{1.7}\G{3.13}{-2.1}{.09}{1}\G{3}{2.2}{.06}{.6}\G{3.26}{1.6}{.04}{.3}}
\Panel{4}{3}{3}{c0}{\F{c1}{(2.78,-9)(3.41,-9)(3.505,-5.6)(3.62,-2.2)(3.76,1.7)(3.76,3)(3.45,1.9)(3.2,0)(3,-1.75)(2.88,-3.9)}\F{c2}{(2.82,-9)(3.39,-9)(3.47,-3.5)(3.525,-1.3)(3.695,1.5)(3.45,.5)(3.22,-1.1)(3.01,-3.5)(2.935,-5.6)}\F{c3}{(2.82,-9)(3.39,-9)(3.485,-1.75)(3.37,-2.8)(3.28,-2.4)(3.16,-2.4)(2.97,-5.2)}\F{c1}{(2.3,-9)(2.78,-9)(2.88,-3.9)(3.01,-.9)(2.95,4)(2.3,4)}\Y{2.42}{-6}{.07}{1.3}\Y{2.58}{-5.2}{.13}{1}\Y{2.5}{-2.2}{.15}{.8}\Y{2.76}{-3}{.06}{1.1}\Y{2.62}{1.3}{.13}{1.5}\Y{2.86}{.85}{.1}{1.5}\G{3.65}{-5.2}{.02}{.2}\G{3.65}{-6.8}{.015}{.2}}
\Panel{4}{4}{3}{c0}{\F{c1}{(2.3,-9)(2.45,-9)(2.4,-3)(2.38,4)(2.3,4)}\G{2.6}{-7.4}{.18}{.6}\G{2.55}{-5}{.1}{.8}\G{2.7}{-3.2}{.15}{.6}\G{2.5}{-.8}{.12}{.8}\G{2.85}{-.8}{.07}{.7}\G{2.68}{1.2}{.1}{1}\G{2.47}{2}{.08}{.8}\G{2.9}{-6}{.04}{.3}\G{3.15}{-5.6}{.06}{.85}\G{3.26}{-7}{.05}{.3}\G{2.96}{1.5}{.09}{.45}\G{3.27}{2.3}{.05}{.2}\G{2.65}{2.5}{.04}{.4}}
\Panel{4}{3}{4}{c0}{\F{c1}{(2.8,-9)(3.45,-9)(3.43,-6.45)(3.485,-3.85)(3.64,-.85)(3.8,2.9)(3.8,4)(3.01,4)}\Y{3.08}{2.7}{.04}{.25}\F{c2}{(2.8,-9)(3.37,-9)(3.43,-3.85)(3.54,-.85)(3.66,1.5)(3.8,2.15)(3.8,2.9)(3.37,2.15)(3.18,.45)(3,-2.15)(2.9,-5.15)}\F{c3}{(2.86,-9)(3.37,-9)(3.41,-3.85)(3.54,-.4)(3.2,.45)(3,-2.15)(2.915,-5.15)}\E{c3}{3.55}{.1}{.04}{.3}\E{c3}{3.64}{1.2}{.025}{.25}\F{c1}{(2.3,-9)(2.8,-9)(2.915,-3.85)(3.03,-.4)(3.01,4)(2.3,4)}\E{c2}{2.65}{-2.2}{.17}{1.3}\E{c2}{2.45}{-7}{.11}{.9}\F{c3}{(2.3,-3.85)(2.5,-2.15)(2.52,.45)(2.3,1.75)}\Y{2.65}{-6.3}{.09}{1.3}\Y{2.54}{-4}{.05}{.8}\Y{2.85}{.5}{.09}{1.1}\Y{2.45}{1.8}{.06}{.6}\Y{2.7}{2.5}{.06}{.4}\Y{2.82}{-6}{.05}{1}}
\Panel{4}{4}{4}{c0}{\F{c1}{(2.4,-9)(3,-9)(2.98,-7)(2.95,-4.5)(3,-1.3)(3.1,2.2)(3.06,4)(2.3,4)}\F{c1}{(2.97,-9)(3.35,-9)(3.2,-6)(2.97,-4.5)}\F{c1}{(3.34,-9)(3.8,-9)(3.8,-1.8)(3.62,-3.1)(3.4,-5.2)(3.32,-7.5)}\F{c1}{(3.3,-2.3)(3.64,-1)(3.8,1.2)(3.8,4)(3.35,3.2)(3.22,.6)}\G{3.1}{-4.5}{.1}{1}\F{c2}{(2.44,-9)(2.55,-9)(2.72,-2.8)(3.01,3)(3.06,4)(2.85,4)}\F{c3}{(2.39,-9)(2.5,-9)(2.66,-3)(2.95,4)(2.3,4)}\F{c4}{(2.3,-9)(2.44,-9)(2.64,-2)(2.94,4)(2.3,4)}\E{c3}{3.58}{-6.9}{.02}{.2}\E{c3}{3.6}{-4.3}{.02}{.2}\E{c2}{2.66}{-4.8}{.04}{.9}}
% group 5
\Panel{5}{1}{1}{c0}{\F{c1}{(2.56,-9)(3.05,-9)(3.01,-6.9)(2.9,-4.7)(2.94,-2.6)(2.9,-.6)(2.975,1.3)(2.94,4)(2.56,4)}\Y{2.67}{-4.3}{.07}{.65}\Y{2.71}{-1.3}{.1}{.65}\Y{2.62}{.2}{.06}{.5}\Y{2.83}{.6}{.06}{.5}\Y{2.77}{-6}{.06}{1.1}\F{c4}{(2.3,-9)(2.56,-9)(2.56,1.5)(2.483,1.5)(2.483,4)(2.41,4)(2.3,1.3)}\F{c2}{(2.56,-7.3)(2.71,-7.3)(2.67,-6)(2.56,-6)}\G{3.09}{-.4}{.09}{.8}\G{3.07}{1.3}{.11}{.5}\G{3.03}{-4.7}{.05}{.35}\G{2.97}{-6.1}{.11}{.5}\G{3.13}{-7.5}{.05}{.5}\G{3.28}{-2.7}{.012}{.12}}
\Panel{5}{2}{1}{c0}{\F{c1}{(2.3,-9)(2.69,-9)(2.65,-6.2)(2.56,-5.6)(2.6,-3.8)(2.9,-.4)(3.04,1.4)(2.95,4)(2.3,4)}\F{c2}{(2.3,-5.8)(2.44,-5.4)(2.38,4)(2.3,4)}\E{c3}{2.36}{-.5}{.05}{3}\F{c4}{(2.3,-9)(2.574,-9)(2.574,-5.8)(2.44,-5.8)(2.3,-7.1)}\Y{2.43}{-.7}{.012}{2.2}\Y{2.74}{-3.4}{.09}{1.3}\Y{2.62}{-5.6}{.05}{.8}\Y{2.73}{1.5}{.07}{1.2}\G{3.16}{-7.5}{.15}{.5}\G{3.33}{-5.7}{.06}{.45}\G{3.125}{-4.5}{.06}{.5}\G{2.95}{-3.4}{.1}{.6}\G{3.17}{-3.3}{.04}{.2}\G{3.3}{-.55}{.03}{.35}\G{3.365}{.5}{.03}{.5}\G{3.17}{2.3}{.03}{.2}\G{3.1}{-.6}{.04}{.2}}
\Panel{5}{1}{2}{c0}{\F{c1}{(2.3,-9)(2.8,-8.7)(2.82,-5.6)(2.8,-4.1)(2.9,-1.9)(2.98,2.6)(2.98,4)(2.3,4)}\Y{2.52}{-5}{.09}{.65}\Y{2.7}{-6}{.06}{.65}\Y{2.72}{-3.4}{.09}{1}\Y{2.5}{-1.5}{.05}{.9}\Y{2.7}{0}{.13}{1.4}\Y{2.46}{1.6}{.07}{.65}\F{c3}{(2.3,-6)(2.41,-6.2)(2.37,4)(2.3,4)}\F{c4}{(2.3,-9)(2.45,-9)(2.45,-7.3)(2.3,-6)}\G{3}{-4.3}{.11}{.35}\G{2.98}{-2.1}{.1}{.4}\G{3.13}{-5.2}{.025}{.35}\G{3.12}{-.6}{.02}{.6}\G{3.1}{-7.7}{.04}{.15}\G{3.2}{1.3}{.015}{.1}\G{3.28}{2.1}{.012}{.1}}
\Panel{5}{2}{2}{c0}{\F{c1}{(2.3,-9)(2.72,-8.7)(2.95,-4.8)(3,3)(3.02,4)(2.3,4)}\Y{2.58}{-5.2}{.07}{.9}\Y{2.75}{-3.8}{.07}{.7}\Y{2.46}{-3}{.03}{.9}\Y{2.65}{-1.2}{.08}{.9}\Y{2.84}{-.6}{.05}{.8}\Y{2.78}{1.6}{.08}{1}\Y{2.58}{2.3}{.04}{.4}\F{c3}{(2.3,-7)(2.4,-7)(2.385,4)(2.3,4)}\F{c4}{(2.3,-9)(2.42,-9)(2.4,-7)(2.3,-6.8)}\E{c2}{2.5}{-.8}{.04}{1.3}\G{2.99}{-5.1}{.075}{.9}\G{3.05}{-2.2}{.06}{.5}\G{3.2}{-5.1}{.03}{.5}\G{3.21}{-3.4}{.03}{.45}\G{3.55}{.7}{.02}{.12}\G{3.13}{-7.7}{.06}{.25}\G{3.02}{-1.5}{.02}{.4}}
\Panel{5}{1}{3}{c0}{\F{c1}{(2.3,-9)(2.91,-8.7)(2.9,-6.3)(3.07,-4.1)(2.98,-1.5)(2.98,4)(2.3,4)}\Y{2.52}{-5.2}{.06}{1.1}\Y{2.71}{-3.9}{.13}{1.1}\Y{2.48}{-2.7}{.05}{.6}\Y{2.67}{-.7}{.11}{1.3}\Y{2.9}{-.3}{.06}{.7}\Y{2.63}{-7}{.05}{.6}\F{c3}{(2.3,-9)(2.4,-9)(2.37,-5.6)(2.34,-3.9)(2.3,-3.5)}\E{c2}{2.35}{-.6}{.11}{1.3}\E{c3}{2.34}{-3}{.03}{2}\G{3}{-6.8}{.09}{.85}\G{3.05}{-5.6}{.03}{.2}\G{3.03}{-3.9}{.08}{.65}\G{3.12}{-1.4}{.02}{.2}\G{3.05}{.8}{.02}{.2}\G{3.5}{2.85}{.04}{.15}\G{3.42}{-2.2}{.01}{.15}}
\Panel{5}{2}{3}{c0}{\F{c1}{(2.3,-9)(2.63,-9)(2.93,-4.8)(2.93,-1.4)(2.97,3)(2.97,4)(2.3,4)}\Y{2.52}{-3.9}{.11}{.65}\Y{2.72}{-5}{.06}{.7}\Y{2.8}{-2}{.08}{1}\Y{2.46}{-1}{.06}{1}\Y{2.68}{-.9}{.04}{.9}\Y{2.55}{1.9}{.05}{.9}\Y{2.4}{-6.5}{.04}{.5}\E{c2}{2.39}{2.4}{.06}{.9}\G{3.05}{-4.6}{.06}{1.5}\G{3.2}{-3.3}{.06}{.65}\G{3.35}{-1.8}{.05}{1.7}\G{3.07}{0}{.11}{1.1}\G{3.05}{-1.4}{.09}{.35}\G{3.42}{1.4}{.06}{.3}\G{3.11}{1.1}{.03}{.2}\G{3.03}{-7}{.02}{.3}}
\Panel{5}{1}{4}{c0}{\F{c1}{(2.3,-9)(2.83,-9)(2.93,-5.6)(2.91,-2.6)(2.985,2.2)(2.98,4)(2.3,4)}\Y{2.5}{-3.3}{.05}{1.1}\Y{2.7}{-6}{.06}{.9}\Y{2.8}{-.7}{.1}{1}\Y{2.55}{.9}{.07}{.8}\Y{2.78}{2.2}{.03}{.5}\F{c3}{(2.3,-9)(2.39,-9)(2.37,-3)(2.35,4)(2.3,4)}\E{c2}{2.41}{-1.5}{.03}{2.5}\E{c2}{2.6}{2.7}{.05}{.4}\G{2.92}{-5}{.09}{1.2}\G{3}{-2.6}{.06}{.65}\G{3.24}{-7.4}{.075}{.45}\G{3.03}{-6.7}{.04}{.6}\G{3.28}{.8}{.04}{.2}\G{3.45}{.7}{.03}{.25}\G{3.13}{.75}{.02}{.17}\G{3.2}{2.2}{.2}{.3}\G{3.35}{-3}{.02}{.15}}
\Panel{5}{2}{4}{c0}{\F{c1}{(2.3,-9)(2.63,-9)(2.85,-5)(2.93,-2.8)(2.95,3)(2.97,4)(2.3,4)}\Y{2.6}{-3.3}{.05}{1}\Y{2.75}{-5.7}{.05}{1}\Y{2.8}{-.5}{.06}{1.2}\Y{2.47}{-4.5}{.05}{.9}\Y{2.5}{.5}{.05}{.8}\Y{2.75}{2}{.06}{.7}\E{c2}{2.45}{-.3}{.08}{.65}\E{c3}{2.38}{.5}{.04}{1}\E{c3}{2.65}{-7.5}{.04}{.35}\E{c3}{2.63}{-.6}{.02}{.7}\G{2.97}{-5.9}{.11}{1.1}\G{3.16}{-3.7}{.15}{1.3}\G{3.37}{-4.2}{.06}{.65}\G{3.1}{-1.2}{.2}{1.1}\G{3.32}{-1.4}{.08}{.6}\G{3.5}{-5.9}{.04}{.15}\G{2.9}{-7.4}{.15}{.65}}
\Panel{5}{3}{1}{c0}{\F{c1}{(2.3,-2.2)(2.4,-4.6)(2.56,-9)(3.02,-9)(2.9,-6)(2.9,-2.6)(2.87,-.9)(2.98,1.3)(3.02,4)(2.3,4)}\Y{2.6}{-5.5}{.09}{1.1}\Y{2.67}{-2.5}{.13}{1.3}\Y{2.55}{.4}{.06}{1.1}\Y{2.82}{1.2}{.06}{.7}\F{c4}{(2.3,-9)(2.56,-9)(2.56,-5.1)(2.41,-4.7)(2.41,-2.3)(2.3,-2.3)}\F{c3}{(2.3,-.5)(2.39,0)(2.43,3)(2.3,3)}\G{3.18}{-6.65}{.11}{.5}\G{3.14}{-5.2}{.08}{.5}\G{3.14}{-2.9}{.09}{.65}\G{3.02}{-.9}{.08}{.25}\G{3.46}{-4.4}{.015}{.17}\G{3.46}{-2.3}{.03}{.5}\G{3.54}{-.6}{.027}{.3}\G{3.24}{1.3}{.04}{.13}}
\Panel{5}{4}{1}{c0}{\F{c1}{(2.47,-7)(2.67,-9)(2.88,-9)(2.8,-5.6)(2.9,-3)(2.93,2)(2.85,4)(2.47,4)}\Y{2.6}{-4.5}{.04}{.8}\Y{2.72}{-3.3}{.04}{.7}\Y{2.55}{-1}{.03}{.8}\Y{2.8}{-1.3}{.06}{1.2}\Y{2.65}{1.4}{.07}{1.2}\F{c4}{(2.3,-9)(2.56,-9)(2.49,-7.9)(2.49,4)(2.3,4)}\G{3.07}{-2.9}{.07}{.43}\G{3.03}{.6}{.04}{.43}\G{2.96}{-7.6}{.08}{.35}\G{3.04}{-6}{.02}{.2}\G{2.98}{-3.9}{.02}{.4}}
\Panel{5}{3}{2}{c0}{\F{c1}{(2.3,-9)(3.32,-8.7)(3.03,-6)(2.86,-5)(2.93,-2)(2.86,-.05)(2.99,2.8)(2.99,4)(2.3,4)}\Y{2.62}{-5.4}{.06}{.8}\Y{2.68}{-2.6}{.05}{1.2}\Y{2.82}{-3.6}{.04}{1}\Y{2.45}{-.9}{.03}{1}\Y{2.7}{1.5}{.09}{1}\Y{2.52}{-6.5}{.04}{.4}\Y{3.07}{-7.4}{.12}{.35}\F{c3}{(2.3,-7)(2.38,-7)(2.4,4)(2.3,4)}\F{c4}{(2.3,-9)(2.4,-9)(2.33,-7)(2.3,-7)}\E{c3}{2.5}{-.9}{.03}{1.1}\E{c3}{2.45}{1}{.03}{1}\G{3.18}{-4.7}{.06}{.85}\G{3.1}{-2.3}{.11}{.65}\G{3.18}{-1.3}{.06}{.4}\G{3.01}{-1.1}{.06}{.5}\G{3.43}{-5.5}{.04}{.25}\G{3.44}{-3.1}{.03}{.2}\G{3.07}{2.2}{.08}{.2}\G{3.55}{2.1}{.02}{.15}\G{3.3}{.6}{.04}{.2}}
\Panel{5}{4}{2}{c0}{\F{c1}{(2.3,-9)(3.05,-8.8)(2.9,-6)(2.87,-3)(2.93,-1)(2.95,1.7)(2.93,4)(2.3,4)}\Y{2.52}{-5.6}{.05}{.75}\Y{2.7}{-5}{.07}{.8}\Y{2.56}{-2.8}{.05}{.8}\Y{2.77}{-2}{.05}{.8}\Y{2.48}{-.5}{.04}{.5}\Y{2.6}{.3}{.06}{.6}\Y{2.82}{.5}{.05}{.7}\Y{2.49}{2.7}{.04}{.3}\E{c2}{2.34}{-3}{.03}{2.6}\G{3}{-5}{.04}{.35}\G{3.16}{-3.4}{.02}{.25}\G{3.2}{-2.2}{.02}{.35}\G{3.22}{.5}{.025}{.2}\G{3}{1.7}{.05}{.9}\G{3.01}{-7.5}{.02}{.2}}
\Panel{5}{3}{3}{c0}{\F{c1}{(2.3,-9)(3.34,-9)(3.36,-5.2)(3.1,-6.2)(2.9,-4.5)(3.03,.5)(3.01,4)(2.3,4)}\G{3.23}{-3.5}{.15}{1.4}\G{3.13}{-.5}{.11}{1.1}\G{3.03}{-3}{.11}{1.1}\Y{3.14}{-1.1}{.04}{.25}\Y{2.55}{-7.8}{.07}{.5}\Y{2.74}{-6.5}{.13}{.5}\Y{2.62}{-4}{.09}{1.2}\Y{2.82}{-2}{.08}{.9}\Y{2.48}{-.5}{.04}{.8}\Y{2.72}{.9}{.05}{.9}\Y{2.5}{2.6}{.05}{.4}\E{c2}{2.39}{-4}{.07}{1.7}\E{c2}{2.43}{.8}{.03}{1.2}\E{c3}{2.36}{1.5}{.03}{1.3}\G{3.59}{-2.8}{.045}{.3}\G{3.58}{1.1}{.02}{.2}\G{3.58}{-5.9}{.015}{.3}\G{3.3}{-4}{.06}{.3}\G{3.59}{-.8}{.02}{.2}}
\Panel{5}{4}{3}{c0}{\F{c1}{(2.3,-9)(3.05,-8)(2.97,-5)(2.9,-3.5)(2.94,.5)(3.06,4)(2.3,4)}\Y{2.46}{-6.6}{.04}{.6}\Y{2.68}{-6.2}{.08}{.6}\Y{2.52}{-4}{.06}{.6}\Y{2.72}{-2.7}{.06}{.8}\Y{2.85}{-3.3}{.05}{.6}\Y{2.5}{-1.4}{.05}{.7}\Y{2.67}{.3}{.1}{.7}\Y{2.45}{1.9}{.04}{.7}\G{3.06}{-7.2}{.06}{.25}\G{3.2}{-5}{.07}{.3}\G{3.32}{-4.3}{.02}{.35}\G{3.03}{1.6}{.08}{.6}\G{3.1}{.8}{.03}{.3}\G{3.28}{-5.9}{.02}{.2}}
\Panel{5}{3}{4}{c0}{\F{c1}{(2.3,-9)(3.06,-8.7)(3.1,-4.4)(3.18,-2.3)(3.09,1)(3.04,4)(2.3,4)}\Y{2.9}{-6.9}{.05}{.9}\Y{2.78}{-5.2}{.06}{.7}\Y{2.58}{-4.9}{.04}{.45}\Y{2.73}{-1.6}{.09}{1.1}\Y{2.46}{-1.3}{.05}{.9}\Y{2.97}{.1}{.08}{1.1}\E{c3}{2.4}{-5.7}{.06}{1.7}\E{c2}{2.49}{-4}{.08}{1.1}\E{c3}{2.64}{-1.1}{.06}{1.1}\E{c2}{2.53}{1.1}{.06}{1.1}\E{c3}{2.64}{-8}{.09}{.5}\E{c3}{3.06}{-5.6}{.02}{.8}\G{3.26}{-5.9}{.08}{.5}\G{3.22}{-3.1}{.08}{.5}\G{3.49}{-5.2}{.09}{1.3}\G{3.24}{.1}{.08}{.65}\G{3.43}{2.3}{.13}{1.1}\G{3.46}{-.9}{.04}{.65}\G{3.63}{-6.6}{.03}{.45}\G{3.35}{-7.7}{.13}{.35}\G{3.75}{-3}{.03}{.2}}
\Panel{5}{4}{4}{c0}{\F{c1}{(2.3,-9)(2.77,-9)(2.88,-5.1)(2.92,-2.1)(3.03,3)(3.03,4)(2.3,4)}\F{c2}{(2.3,-9)(2.39,-9)(2.4,-3)(2.55,-1)(2.68,2)(2.72,4)(2.3,4)}\E{c2}{2.58}{-2.4}{.1}{1.1}\E{c3}{2.47}{-1.4}{.07}{1.3}\F{c3}{(2.3,-9)(2.36,-9)(2.35,-2.9)(2.48,0)(2.68,4)(2.3,4)}\F{c1}{(2.39,-9)(2.42,-9)(2.4,-6)(2.39,-5)}\Y{2.5}{-5.8}{.05}{1.1}\Y{2.7}{-5.8}{.05}{1.1}\Y{2.72}{-.7}{.05}{.9}\Y{2.85}{.8}{.06}{.8}\G{3.27}{-5.7}{.11}{.9}\G{3.31}{-2.6}{.06}{1.7}\G{3.05}{-3.7}{.04}{1.1}\G{3.06}{-1.1}{.11}{.65}\G{3.56}{1}{.03}{.3}\G{3.42}{-6}{.03}{.25}\G{3.2}{-7.2}{.04}{.4}}
% group 6
\Panel{6}{1}{1}{c0}{\F{c1}{(2.3,-9)(2.82,-9)(2.9,-6.6)(2.86,-4)(2.94,-1)(2.98,1.3)(2.96,4)(2.3,4)}\Y{2.67}{-4.3}{.07}{1.3}\Y{2.8}{-1}{.06}{.85}\Y{2.67}{-.3}{.045}{1}\Y{2.83}{1}{.04}{.65}\F{c4}{(2.3,-9)(2.56,-9)(2.56,1.5)(2.483,1.5)(2.483,2.8)(2.3,2.4)}\F{c2}{(2.56,-6.2)(2.62,-5.8)(2.6,-3.7)(2.56,-2.8)}\G{2.92}{-7}{.13}{.65}\G{3.11}{-5.8}{.19}{.5}\G{2.98}{-4.5}{.06}{.65}\G{3.34}{-1.9}{.07}{.65}\G{3.2}{-.2}{.045}{.65}\G{3.11}{1.3}{.11}{.85}\G{3.05}{-.2}{.04}{.45}\G{3.5}{2.5}{.05}{.1}\G{3.54}{2.1}{.02}{.2}\G{3.13}{-2.7}{.02}{.1}}
\Panel{6}{2}{1}{c0}{\F{c1}{(2.3,-9)(2.71,-9)(2.84,-5.2)(2.88,-3.7)(2.94,0)(3,2.2)(2.94,4)(2.3,4)}\Y{2.4}{-2.4}{.03}{1.2}\Y{2.62}{-4.4}{.05}{.85}\Y{2.65}{.8}{.06}{1.3}\Y{2.79}{-1.9}{.09}{1.3}\Y{2.83}{1.1}{.04}{.8}\F{c3}{(2.3,-5.6)(2.48,-5.6)(2.54,-4.7)(2.52,4)(2.3,3)}\F{c4}{(2.3,-9)(2.574,-9)(2.48,-7.4)(2.3,-5.6)}\E{c2}{2.53}{-5.2}{.06}{.5}\Y{2.38}{-1}{.02}{.6}\Y{2.4}{1.1}{.03}{.5}\G{3.05}{-6.45}{.17}{1.3}\G{3.13}{-3.7}{.11}{.45}\G{2.97}{-4}{.11}{1.1}\G{3.29}{-2.3}{.045}{.35}\G{3.05}{-.7}{.045}{.35}\G{3.17}{-1}{.04}{.15}\G{3.29}{2.5}{.03}{.35}\G{3.02}{2.6}{.06}{.25}\G{3.4}{-4.8}{.01}{.15}}
\Panel{6}{1}{2}{c0}{\F{c1}{(2.3,-9)(2.75,-9)(2.92,-5.5)(2.92,-1.8)(2.98,0)(2.95,4)(2.3,4)}\Y{2.5}{-5.4}{.05}{.7}\Y{2.67}{-3.5}{.06}{.9}\Y{2.48}{-1.4}{.07}{.65}\Y{2.82}{-1.5}{.04}{.8}\Y{2.55}{.3}{.04}{.8}\Y{2.76}{.6}{.06}{1.1}\F{c3}{(2.3,-6)(2.42,-6.5)(2.42,-.8)(2.39,4)(2.3,4)}\F{c4}{(2.3,-9)(2.45,-9)(2.42,-6.5)(2.41,-.7)(2.3,0)}\E{c2}{2.43}{2.5}{.02}{.9}\G{3.05}{-5.5}{.03}{.5}\G{3.16}{-7.3}{.06}{.3}\G{3.1}{-3.6}{.06}{.43}\G{3.18}{-2.4}{.06}{.25}\G{3.37}{-6.1}{.04}{.35}\G{3.02}{.6}{.06}{.35}\G{3.17}{2}{.08}{.25}\G{3.16}{-5.1}{.02}{.4}}
\Panel{6}{2}{2}{c0}{\F{c1}{(2.3,-9)(2.94,-8.6)(2.75,-5.7)(2.98,-.5)(3.02,3)(3,4)(2.3,4)}\Y{2.39}{-5.4}{.04}{.85}\Y{2.52}{-5}{.055}{.85}\Y{2.44}{-2.8}{.05}{.8}\Y{2.71}{-.8}{.075}{1.5}\Y{2.71}{-4.4}{.05}{.8}\Y{2.85}{1.4}{.04}{.6}\E{c3}{2.52}{.1}{.075}{1.2}\E{c2}{2.47}{-2}{.06}{.6}\F{c3}{(2.3,-2)(2.37,-2)(2.38,4)(2.3,4)}\F{c4}{(2.3,-9)(2.41,-9)(2.37,-7.3)(2.3,-6.5)}\E{c2}{2.48}{-7}{.06}{.8}\G{3.05}{-6}{.075}{1.3}\G{3.13}{.3}{.11}{.5}\G{2.98}{-.9}{.04}{.25}\G{3.2}{-2.9}{.02}{.17}\G{3.2}{1}{.04}{.13}\G{3.76}{2.3}{.02}{.3}\G{3.05}{-7.6}{.1}{.3}}
\Panel{6}{1}{3}{c0}{\F{c1}{(2.3,-9)(3.1,-8.7)(2.95,-6.3)(2.89,-4.4)(3.14,-.5)(3,1.6)(2.95,4)(2.3,4)}\Y{2.5}{-7.4}{.07}{.4}\Y{2.6}{-5}{.12}{1.1}\Y{2.7}{-2.9}{.15}{1.2}\Y{2.84}{-1}{.07}{1.3}\Y{2.62}{.7}{.06}{.8}\Y{2.42}{2.5}{.05}{.4}\E{c3}{2.41}{-5}{.045}{1.1}\E{c2}{2.38}{-2}{.05}{1.6}\G{3.14}{-7.5}{.1}{.5}\G{3.06}{-6}{.04}{.4}\G{3.18}{2.9}{.06}{.13}\G{3.13}{2.6}{.02}{.2}\G{3.09}{1.8}{.03}{.4}\G{3.25}{-2}{.02}{.12}}
\Panel{6}{2}{3}{c0}{\F{c1}{(2.3,-9)(2.9,-8.7)(3.1,-5.6)(2.9,-3.5)(3.05,0)(2.95,3)(2.95,4)(2.3,4)}\Y{2.52}{-5.6}{.045}{1.3}\Y{2.67}{-3.2}{.06}{.85}\Y{2.47}{.9}{.05}{.8}\Y{2.78}{-.9}{.09}{1.1}\Y{2.62}{-6}{.04}{.7}\E{c3}{2.4}{-5}{.03}{2.5}\E{c3}{2.4}{-1.7}{.06}{.65}\F{c4}{(2.3,-9)(2.39,-9)(2.36,-6)(2.3,-5)}\E{c3}{2.55}{-2}{.02}{.8}\G{3.33}{-1.8}{.07}{.65}\G{3.27}{.9}{.11}{.6}\G{3.13}{-7}{.19}{.85}\G{3.07}{0}{.08}{.65}\G{3.2}{-5}{.05}{.4}\G{3.43}{-.5}{.015}{.15}}
\Panel{6}{1}{4}{c0}{\F{c1}{(2.3,-9)(2.82,-8.6)(3.1,-5.6)(2.92,-3.4)(3.15,-.8)(3.25,1.9)(2.96,4)(2.3,4)}\Y{2.62}{-4.8}{.08}{1}\Y{2.78}{-4.7}{.07}{.8}\Y{2.52}{-1}{.05}{.9}\Y{2.72}{.3}{.1}{1.2}\Y{2.88}{-6}{.05}{.7}\E{c2}{2.38}{-2.1}{.04}{1.7}\E{c2}{2.6}{2.7}{.045}{.35}\E{c2}{2.47}{-7}{.075}{.5}\F{c3}{(2.3,-9)(2.36,-9)(2.34,0)(2.34,4)(2.3,4)}\G{3.3}{-5.7}{.038}{.65}\G{3.1}{-.7}{.08}{.9}\G{3.51}{2.5}{.13}{.5}\G{3.43}{-5}{.04}{.13}\G{3.6}{-.3}{.02}{.2}}
\Panel{6}{2}{4}{c0}{\F{c1}{(2.3,-9)(2.74,-8.7)(3.35,-2)(2.95,-1)(3.02,2.9)(3,4)(2.3,4)}\Y{3.08}{-5.4}{.08}{.9}\Y{3.03}{-2.9}{.06}{.5}\Y{2.38}{-3.8}{.04}{1.1}\Y{2.71}{-1}{.06}{1.3}\Y{2.46}{-.5}{.04}{.7}\Y{2.8}{.9}{.05}{.9}\E{c3}{2.34}{-2}{.025}{5}\E{c2}{2.56}{-7.5}{.03}{.85}\E{c2}{2.65}{-5.4}{.03}{.8}\E{c2}{2.8}{-4.5}{.03}{1.1}\E{c2}{2.56}{-.3}{.02}{.65}\E{c2}{2.41}{2.2}{.045}{.5}\G{3.26}{.5}{.1}{.65}\G{3.1}{1.4}{.08}{.5}\E{c2}{3.69}{2.7}{.02}{.35}\G{3.5}{-6.1}{.04}{.13}}
\Panel{6}{3}{1}{c0}{\F{c1}{(2.3,-2)(2.4,-4.6)(2.56,-9)(2.9,-9)(3.16,-8.5)(3.53,-8.5)(3.47,-5.5)(3.3,-4.3)(3.16,-3.5)(3,1)(2.98,4)(2.3,4)}\Y{3.09}{-6.4}{.1}{1}\Y{3.33}{-6.8}{.12}{.4}\Y{3.16}{-5.1}{.03}{.25}\Y{2.78}{-4.5}{.04}{1}\Y{2.72}{-1.5}{.08}{.8}\Y{2.85}{1.4}{.06}{.7}\F{c4}{(2.3,-9)(2.57,-9)(2.57,-5.1)(2.42,-4.9)(2.42,-2.2)(2.3,-2.2)}\E{c3}{2.42}{-.2}{.09}{2.2}\E{c4}{2.37}{.3}{.04}{1.3}\E{c2}{3.42}{-4.6}{.05}{.5}\G{3.53}{-.6}{.03}{.17}\G{3.39}{.7}{.02}{.25}\G{3.3}{2.5}{.06}{.25}\G{3.25}{-2.7}{.03}{.2}\G{3.1}{1}{.06}{.25}}
\Panel{6}{4}{1}{c0}{\F{c1}{(2.47,-7)(2.65,-9)(3.11,-9)(2.97,-6)(3.15,-4.8)(2.97,-3)(3,2.5)(2.47,4)}\Y{2.73}{-1.4}{.15}{2.3}\Y{2.67}{-4.7}{.04}{.8}\Y{2.62}{2}{.06}{.8}\F{c4}{(2.3,-9)(2.56,-9)(2.49,-7.9)(2.49,4)(2.3,4)}\E{c2}{2.97}{-6.6}{.015}{.3}\G{3.08}{-.8}{.08}{.65}\G{3.29}{.5}{.06}{.65}\G{3.1}{2.5}{.08}{.25}\G{3.1}{-3.2}{.08}{.25}\G{3.49}{-4.3}{.015}{.17}\G{3.26}{-5.8}{.02}{.2}\G{3.34}{-2.5}{.015}{.2}}
\Panel{6}{3}{2}{c0}{\F{c1}{(2.3,-9)(3.34,-8.7)(3.13,-6.8)(2.9,-5.4)(2.95,-3)(2.9,-.9)(3.04,2.8)(2.98,4)(2.3,4)}\Y{2.65}{-6}{.07}{.8}\Y{2.62}{-2}{.055}{1.3}\Y{2.78}{-3.3}{.06}{1}\Y{2.73}{.9}{.07}{1.2}\Y{2.48}{.8}{.03}{.8}\E{c2}{2.5}{-6.3}{.075}{1.1}\E{c2}{2.47}{-1.2}{.09}{1.5}\E{c3}{2.39}{-1}{.05}{3.5}\F{c4}{(2.3,-9)(2.42,-9)(2.35,-7)(2.3,-6.5)}\E{c3}{2.5}{-7.6}{.04}{.5}\G{3.22}{-5}{.06}{.85}\G{3.04}{-6}{.03}{.9}\G{3.08}{-1.5}{.09}{.6}\G{3.13}{1.2}{.07}{.5}\G{3.33}{-2.7}{.05}{.6}\G{3.26}{.7}{.03}{.4}\G{3.15}{.95}{.05}{.3}\G{3.4}{1.2}{.06}{.13}\G{3.46}{-5.6}{.04}{.3}\G{3.47}{-3.5}{.04}{.2}}
\Panel{6}{4}{2}{c0}{\F{c1}{(2.3,-9)(3.1,-8.7)(2.95,-6)(2.9,-5)(2.88,-1.5)(2.96,1.7)(2.95,4)(2.3,4)}\Y{2.58}{-6}{.05}{.7}\Y{2.6}{-3.4}{.055}{.85}\Y{2.7}{-4.4}{.03}{1}\Y{2.82}{-1.8}{.05}{1}\Y{2.72}{1}{.08}{.9}\Y{2.52}{-1}{.04}{.6}\E{c3}{2.35}{-3}{.03}{3.3}\E{c2}{2.38}{-.2}{.02}{2}\F{c3}{(2.3,-9)(2.39,-9)(2.32,-6)(2.3,-6)}\G{3.01}{-5}{.06}{.65}\G{3.03}{-2.4}{.08}{.65}\G{3.05}{-6.5}{.02}{.2}\G{3.15}{-.6}{.06}{.17}\G{3.2}{2.7}{.05}{.13}\G{2.93}{-4}{.04}{.3}}
\Panel{6}{3}{3}{c0}{\F{c1}{(2.3,-9)(3.1,-8.7)(2.98,-6.2)(3.1,-3.5)(3.08,-1.4)(2.95,2)(2.95,4)(2.3,4)}\Y{2.55}{-5.7}{.06}{1}\Y{2.72}{-5.3}{.1}{.6}\Y{2.45}{-3.8}{.05}{.9}\Y{2.78}{-2.8}{.12}{1.2}\Y{2.5}{-.7}{.05}{1.2}\Y{2.68}{.9}{.09}{1}\Y{2.88}{.8}{.05}{.8}\E{c3}{2.4}{-5}{.07}{1.7}\E{c3}{2.36}{.1}{.04}{2}\E{c2}{2.42}{-7.4}{.04}{.5}\F{c3}{(2.3,-4)(2.36,-4)(2.35,3)(2.3,3)}\G{3.2}{-4.9}{.04}{.65}\G{3.3}{-2.9}{.08}{.5}\G{3.18}{-1.5}{.1}{.6}\G{3.22}{-.1}{.06}{1}\G{3.47}{2.9}{.1}{.4}\G{3.52}{-5.7}{.04}{.65}\G{3.3}{-5.6}{.06}{.35}\G{3.37}{-1.3}{.025}{.3}\G{3.23}{-7.6}{.06}{.25}}
\Panel{6}{4}{3}{c0}{\F{c1}{(2.3,-9)(3.03,-8.7)(2.88,-5.2)(2.95,-2.5)(2.98,.7)(3,4)(2.3,4)}\Y{2.54}{-4}{.1}{1.1}\Y{2.6}{-.5}{.095}{1.1}\Y{2.38}{-4}{.02}{.9}\Y{2.78}{-3}{.04}{1.4}\Y{2.83}{1.4}{.06}{.8}\E{c2}{2.4}{-6.6}{.09}{.65}\E{c3}{2.4}{-.6}{.05}{1.1}\E{c2}{2.36}{-.2}{.04}{2}\G{3.3}{-3.9}{.06}{.65}\G{3.23}{-6}{.04}{.5}\G{3.08}{-3}{.06}{.5}\G{3.05}{-7.1}{.06}{.7}\G{3.3}{-7.9}{.03}{.25}\G{3.1}{-5.2}{.1}{.35}}
\Panel{6}{3}{4}{c0}{\F{c1}{(2.3,-9)(3.44,-8.7)(3.52,-6.5)(3.34,-3.5)(3.2,-1.8)(2.97,-.4)(2.98,4)(2.3,4)}\Y{3.03}{-6.2}{.06}{.85}\Y{3.24}{-5}{.08}{1.3}\Y{2.55}{-4.5}{.04}{.8}\Y{2.7}{-1.7}{.1}{1.1}\Y{2.5}{-1}{.04}{.7}\Y{2.8}{1.1}{.05}{.9}\E{c2}{2.48}{.6}{.04}{1.1}\E{c3}{2.38}{2.1}{.04}{.9}\E{c2}{2.6}{-7}{.1}{.65}\E{c2}{2.89}{-5.2}{.06}{1.7}\E{c3}{2.74}{-4.9}{.03}{.65}\E{c2}{2.61}{-1}{.04}{.9}\G{3.3}{.1}{.08}{1.1}\G{3.13}{2}{.05}{.3}\G{3.46}{2.4}{.1}{.2}\G{3.6}{-5.3}{.03}{.2}}
\Panel{6}{4}{4}{c0}{\F{c1}{(2.3,-9)(3.13,-8.6)(2.94,-5.5)(2.98,-2.5)(3.16,2.3)(3.3,4)(2.3,4)}\Y{2.57}{-4.5}{.08}{1.7}\Y{2.68}{-1.5}{.04}{1}\Y{2.78}{-4.5}{.05}{.9}\Y{2.88}{-.6}{.04}{.9}\Y{2.35}{-2}{.01}{.5}\E{c3}{2.34}{-3}{.03}{2.5}\E{c2}{2.45}{1.4}{.08}{.85}\E{c3}{2.42}{1.8}{.05}{.6}\E{c2}{2.8}{2.9}{.08}{.25}\F{c3}{(2.3,-9)(2.42,-9)(2.35,-7)(2.3,-6.5)}\G{3.2}{-3}{.09}{1.3}\G{3.22}{-3.2}{.04}{.6}\G{3.5}{.4}{.11}{.35}\G{3.35}{2.3}{.15}{.43}\G{3.24}{-7}{.04}{.65}\G{3.49}{-3.8}{.015}{.2}\G{3.73}{-4}{.015}{.2}}
\end{tikzpicture}
\end{document}
